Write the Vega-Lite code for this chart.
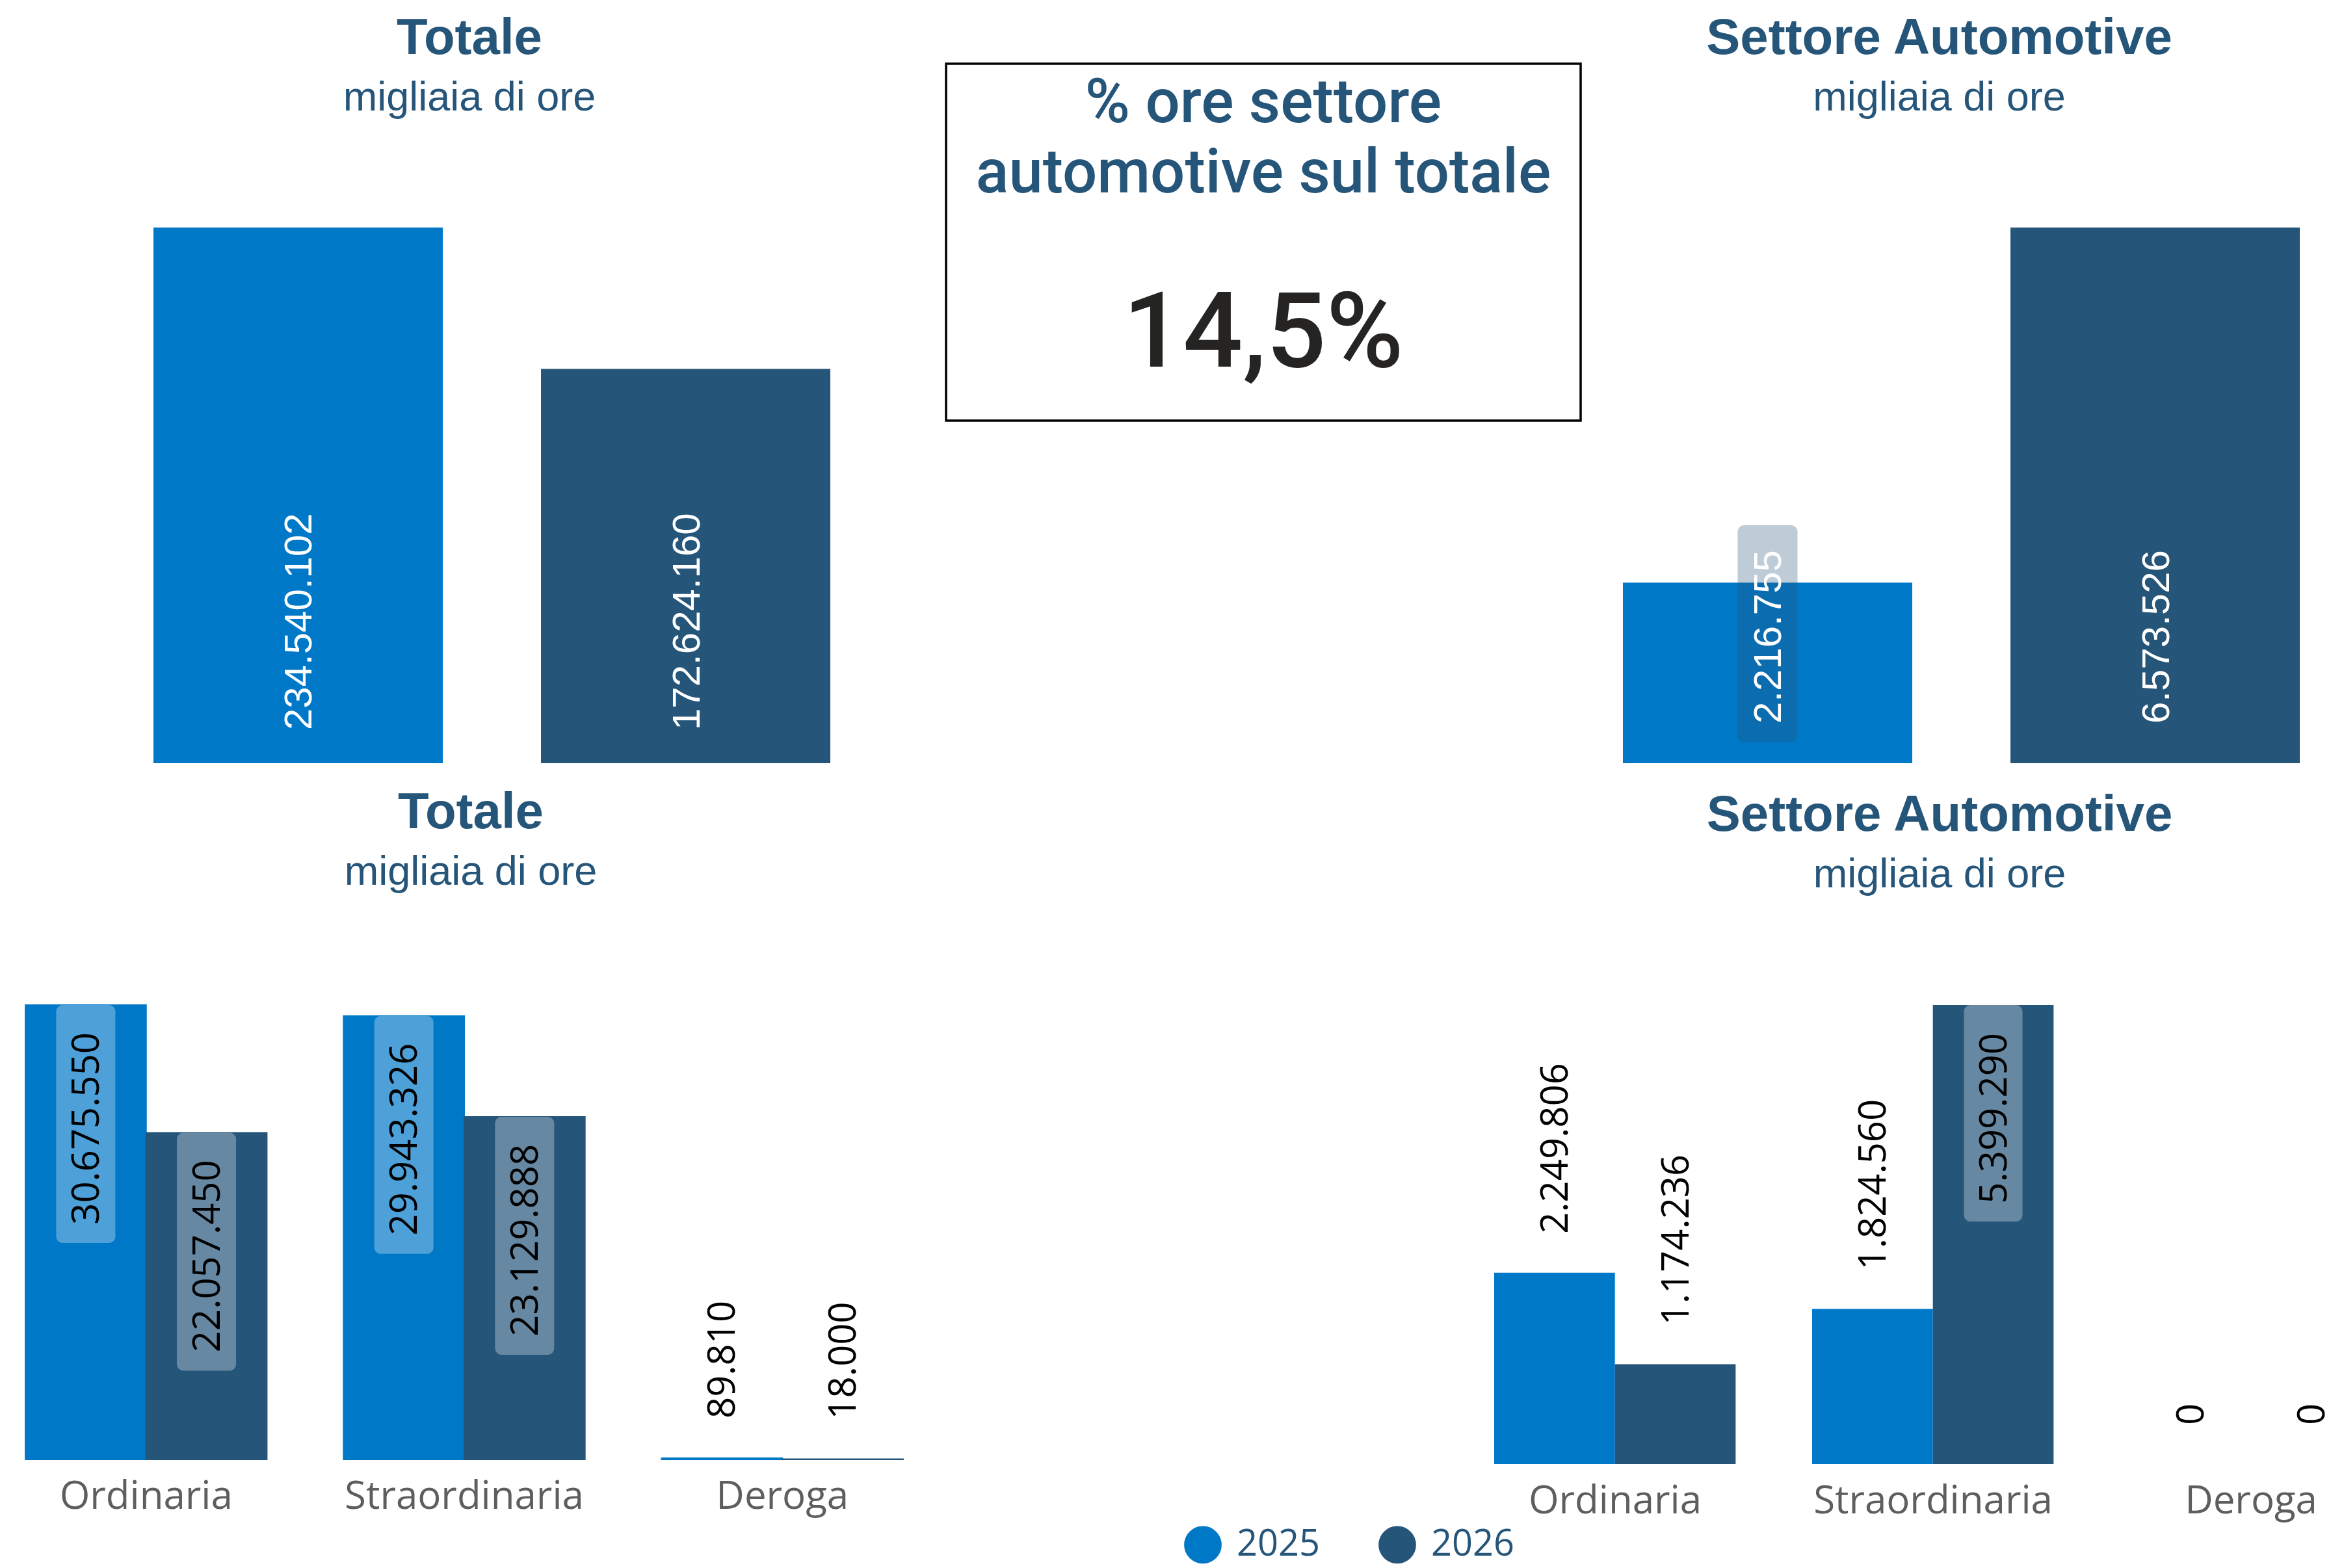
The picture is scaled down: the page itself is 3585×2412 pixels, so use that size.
{
  "$schema": "https://vega.github.io/schema/vega-lite/v6.json",
  "padding": {"left": 0, "top": 21, "right": 0, "bottom": 0},
  "background": "#ffffff",
  "spacing": 38,
  "config": {
    "locale": {"number": {"decimal": ",", "thousands": ".", "grouping": [3], "currency": ["€", ""]}},
    "view": {"stroke": null},
    "title": {"anchor": "middle", "frame": "group", "font": "Liberation Sans", "fontSize": 78, "fontWeight": "bold", "color": "#26557A", "subtitleFont": "Liberation Sans", "subtitleFontSize": 63, "subtitleFontWeight": "normal", "subtitleColor": "#26557A", "subtitlePadding": 21},
    "axisX": {"title": null, "domain": false, "ticks": false, "tickSize": 0, "grid": false, "labelAngle": 0, "labelFont": "Open Sans", "labelFontSize": 60, "labelColor": "#605E5C", "labelPadding": 28, "labelLimit": 0}
  },
  "datasets": {
    "totali": [
      {"settore": "Totale", "anno": "2025", "ore": 234540102},
      {"settore": "Totale", "anno": "2026", "ore": 172624160},
      {"settore": "Settore Automotive", "anno": "2025", "ore": 2216755},
      {"settore": "Settore Automotive", "anno": "2026", "ore": 6573526}
    ],
    "tipologie": [
      {"settore": "Totale", "tipo": "Ordinaria", "anno": "2025", "ore": 30675550},
      {"settore": "Totale", "tipo": "Ordinaria", "anno": "2026", "ore": 22057450},
      {"settore": "Totale", "tipo": "Straordinaria", "anno": "2025", "ore": 29943326},
      {"settore": "Totale", "tipo": "Straordinaria", "anno": "2026", "ore": 23129888},
      {"settore": "Totale", "tipo": "Deroga", "anno": "2025", "ore": 89810},
      {"settore": "Totale", "tipo": "Deroga", "anno": "2026", "ore": 18000},
      {"settore": "Settore Automotive", "tipo": "Ordinaria", "anno": "2025", "ore": 2249806},
      {"settore": "Settore Automotive", "tipo": "Ordinaria", "anno": "2026", "ore": 1174236},
      {"settore": "Settore Automotive", "tipo": "Straordinaria", "anno": "2025", "ore": 1824560},
      {"settore": "Settore Automotive", "tipo": "Straordinaria", "anno": "2026", "ore": 5399290},
      {"settore": "Settore Automotive", "tipo": "Deroga", "anno": "2025", "ore": 0},
      {"settore": "Settore Automotive", "tipo": "Deroga", "anno": "2026", "ore": 0}
    ],
    "kpi": [
      {"titolo": "% ore settore\nautomotive sul totale", "quota": 0.145}
    ]
  },
  "vconcat": [
    {
      "spacing": 11,
      "bounds": "flush",
      "hconcat": [
        {
          "width": 1444,
          "height": 1076,
          "title": {"text": "Totale", "subtitle": "migliaia di ore", "offset": -85},
          "data": {"name": "totali"},
          "transform": [{"filter": "datum.settore === 'Totale'"}],
          "encoding": {
            "x": {"field": "anno", "type": "nominal", "axis": null, "scale": {"paddingInner": 0.2534, "paddingOuter": 0.3381, "align": 0.5856}}
          },
          "layer": [
            {
              "mark": {"type": "bar"},
              "encoding": {
                "y": {"field": "ore", "type": "quantitative", "axis": null, "scale": {"domain": [0, 306268329], "nice": false}},
                "color": {"field": "anno", "type": "nominal", "scale": {"domain": ["2025", "2026"], "range": ["#0078C8", "#26557A"]},
                  "legend": {"title": null, "orient": "none", "legendX": 1821, "legendY": 2249, "direction": "horizontal", "symbolType": "circle", "symbolSize": 3000, "symbolStrokeWidth": 3, "symbolStrokeColor": "#0B5EA8", "symbolOpacity": 1, "labelFont": "Open Sans", "labelFontSize": 56, "labelColor": "#26557A", "labelOffset": 23, "columnPadding": 84, "padding": 0, "labelBaseline": "middle"}}
              }
            },
            {
              "mark": {"type": "text", "angle": 270, "align": "left", "baseline": "middle", "dx": 51, "dy": 3, "font": "Liberation Sans", "fontSize": 60, "fill": "#FFFFFF"},
              "encoding": {
                "y": {"datum": 0, "type": "quantitative", "axis": null},
                "text": {"field": "ore", "type": "quantitative", "format": ",d"}
              }
            }
          ]
        },
        {
          "width": 976,
          "height": 549,
          "view": {"stroke": "#000000", "strokeWidth": 3.5},
          "data": {"name": "kpi"},
          "layer": [
            {
              "mark": {"type": "text", "font": "Roboto", "fontSize": 94, "fontWeight": 500, "fill": "#26557A", "lineBreak": "\n", "lineHeight": 108, "baseline": "alphabetic", "align": "center", "dy": -184.5},
              "encoding": {"text": {"field": "titolo", "type": "nominal"}}
            },
            {
              "mark": {"type": "text", "font": "Roboto", "fontSize": 162, "fontWeight": 500, "fill": "#252423", "baseline": "alphabetic", "align": "center", "dy": 191},
              "encoding": {"text": {"field": "quota", "type": "quantitative", "format": ".1%"}}
            }
          ]
        },
        {
          "width": 1103,
          "height": 1076,
          "title": {"text": "Settore Automotive", "subtitle": "migliaia di ore", "offset": -85, "dx": -11},
          "data": {"name": "totali"},
          "transform": [{"filter": "datum.settore === 'Settore Automotive'"}],
          "encoding": {
            "x": {"field": "anno", "type": "nominal", "axis": null, "scale": {"paddingInner": 0.2534, "paddingOuter": 0.052, "align": 0.871}}
          },
          "layer": [
            {
              "mark": {"type": "bar"},
              "encoding": {
                "y": {"field": "ore", "type": "quantitative", "axis": null, "scale": {"domain": [0, 8583875], "nice": false}},
                "color": {"field": "anno", "type": "nominal", "scale": {"domain": ["2025", "2026"], "range": ["#0078C8", "#26557A"]},
                  "legend": {"title": null, "orient": "none", "legendX": 1821, "legendY": 2249, "direction": "horizontal", "symbolType": "circle", "symbolSize": 3000, "symbolStrokeWidth": 3, "symbolStrokeColor": "#0B5EA8", "symbolOpacity": 1, "labelFont": "Open Sans", "labelFontSize": 56, "labelColor": "#26557A", "labelOffset": 23, "columnPadding": 84, "padding": 0, "labelBaseline": "middle"}}
              }
            },
            {
              "transform": [{"filter": "datum.anno === '2025'"}],
              "mark": {"type": "bar", "width": 92, "cornerRadius": 10, "fill": "#26557A", "fillOpacity": 0.3, "yOffset": -32, "y2Offset": -366},
              "encoding": {
                "y": {"datum": 0, "type": "quantitative", "axis": null},
                "y2": {"datum": 0}
              }
            },
            {
              "mark": {"type": "text", "angle": 270, "align": "left", "baseline": "middle", "dx": 61, "dy": 3, "font": "Liberation Sans", "fontSize": 60, "fill": "#FFFFFF"},
              "encoding": {
                "y": {"datum": 0, "type": "quantitative", "axis": null},
                "text": {"field": "ore", "type": "quantitative", "format": ",d"}
              }
            }
          ]
        }
      ]
    },
    {
      "spacing": 800,
      "bounds": "flush",
      "hconcat": [
        {
          "width": 1448,
          "height": 699,
          "title": {"text": "Totale", "subtitle": "migliaia di ore", "offset": 171},
          "data": {"name": "tipologie"},
          "transform": [{"filter": "datum.settore === 'Totale'"}],
          "encoding": {
            "x": {"field": "tipo", "type": "nominal", "sort": ["Ordinaria", "Straordinaria", "Deroga"], "scale": {"paddingInner": 0.241, "paddingOuter": 0.1003, "align": 0.398}},
            "xOffset": {"field": "anno", "type": "nominal", "scale": {"paddingInner": 0, "paddingOuter": 0}}
          },
          "layer": [
            {
              "mark": {"type": "bar", "strokeWidth": 2},
              "encoding": {
                "y": {"field": "ore", "type": "quantitative", "axis": null, "scale": {"domain": [0, 30675550], "nice": false}},
                "color": {"field": "anno", "type": "nominal", "scale": {"domain": ["2025", "2026"], "range": ["#0078C8", "#26557A"]},
                  "legend": {"title": null, "orient": "none", "legendX": 1821, "legendY": 2249, "direction": "horizontal", "symbolType": "circle", "symbolSize": 3000, "symbolStrokeWidth": 3, "symbolStrokeColor": "#0B5EA8", "symbolOpacity": 1, "labelFont": "Open Sans", "labelFontSize": 56, "labelColor": "#26557A", "labelOffset": 23, "columnPadding": 84, "padding": 0, "labelBaseline": "middle"}},
                "stroke": {"field": "anno", "type": "nominal", "scale": {"domain": ["2025", "2026"], "range": ["#0078C8", "#26557A"]}, "legend": null}
              }
            },
            {
              "transform": [{"filter": "datum.ore > 1000000"}],
              "mark": {"type": "bar", "width": 91, "cornerRadius": 10, "fill": "#FFFFFF", "fillOpacity": 0.3, "y2Offset": 366},
              "encoding": {
                "y": {"field": "ore", "type": "quantitative", "axis": null},
                "y2": {"field": "ore"}
              }
            },
            {
              "transform": [{"filter": "datum.ore > 1000000"}],
              "mark": {"type": "text", "angle": 270, "align": "right", "baseline": "middle", "dx": -42, "dy": 3, "font": "Open Sans", "fontSize": 58, "fill": "#000000"},
              "encoding": {
                "y": {"field": "ore", "type": "quantitative", "axis": null},
                "text": {"field": "ore", "type": "quantitative", "format": ",d"}
              }
            },
            {
              "transform": [{"filter": "datum.ore <= 1000000"}],
              "mark": {"type": "text", "angle": 270, "align": "left", "baseline": "middle", "dx": 61, "dy": 3, "font": "Open Sans", "fontSize": 58, "fill": "#000000"},
              "encoding": {
                "y": {"field": "ore", "type": "quantitative", "axis": null},
                "text": {"field": "ore", "type": "quantitative", "format": ",d"}
              }
            }
          ]
        },
        {
          "width": 1470,
          "height": 706,
          "title": {"text": "Settore Automotive", "subtitle": "migliaia di ore", "offset": 168},
          "data": {"name": "tipologie"},
          "transform": [{"filter": "datum.settore === 'Settore Automotive'"}],
          "encoding": {
            "x": {"field": "tipo", "type": "nominal", "sort": ["Ordinaria", "Straordinaria", "Deroga"], "scale": {"paddingInner": 0.2393, "paddingOuter": 0.1227, "align": 0.4167}},
            "xOffset": {"field": "anno", "type": "nominal", "scale": {"paddingInner": 0, "paddingOuter": 0}}
          },
          "layer": [
            {
              "mark": {"type": "bar"},
              "encoding": {
                "y": {"field": "ore", "type": "quantitative", "axis": null, "scale": {"domain": [0, 5399290], "nice": false}},
                "color": {"field": "anno", "type": "nominal", "scale": {"domain": ["2025", "2026"], "range": ["#0078C8", "#26557A"]},
                  "legend": {"title": null, "orient": "none", "legendX": 1821, "legendY": 2249, "direction": "horizontal", "symbolType": "circle", "symbolSize": 3000, "symbolStrokeWidth": 3, "symbolStrokeColor": "#0B5EA8", "symbolOpacity": 1, "labelFont": "Open Sans", "labelFontSize": 56, "labelColor": "#26557A", "labelOffset": 23, "columnPadding": 84, "padding": 0, "labelBaseline": "middle"}}
              }
            },
            {
              "transform": [{"filter": "datum.ore > 3000000"}],
              "mark": {"type": "bar", "width": 90, "cornerRadius": 10, "fill": "#FFFFFF", "fillOpacity": 0.3, "y2Offset": 333},
              "encoding": {
                "y": {"field": "ore", "type": "quantitative", "axis": null},
                "y2": {"field": "ore"}
              }
            },
            {
              "transform": [{"filter": "datum.ore > 3000000"}],
              "mark": {"type": "text", "angle": 270, "align": "right", "baseline": "middle", "dx": -43, "dy": 3, "font": "Open Sans", "fontSize": 58, "fill": "#000000"},
              "encoding": {
                "y": {"field": "ore", "type": "quantitative", "axis": null},
                "text": {"field": "ore", "type": "quantitative", "format": ",d"}
              }
            },
            {
              "transform": [{"filter": "datum.ore <= 3000000"}],
              "mark": {"type": "text", "angle": 270, "align": "left", "baseline": "middle", "dx": 60, "dy": 3, "font": "Open Sans", "fontSize": 58, "fill": "#000000"},
              "encoding": {
                "y": {"field": "ore", "type": "quantitative", "axis": null},
                "text": {"field": "ore", "type": "quantitative", "format": ",d"}
              }
            }
          ]
        }
      ]
    }
  ]
}
